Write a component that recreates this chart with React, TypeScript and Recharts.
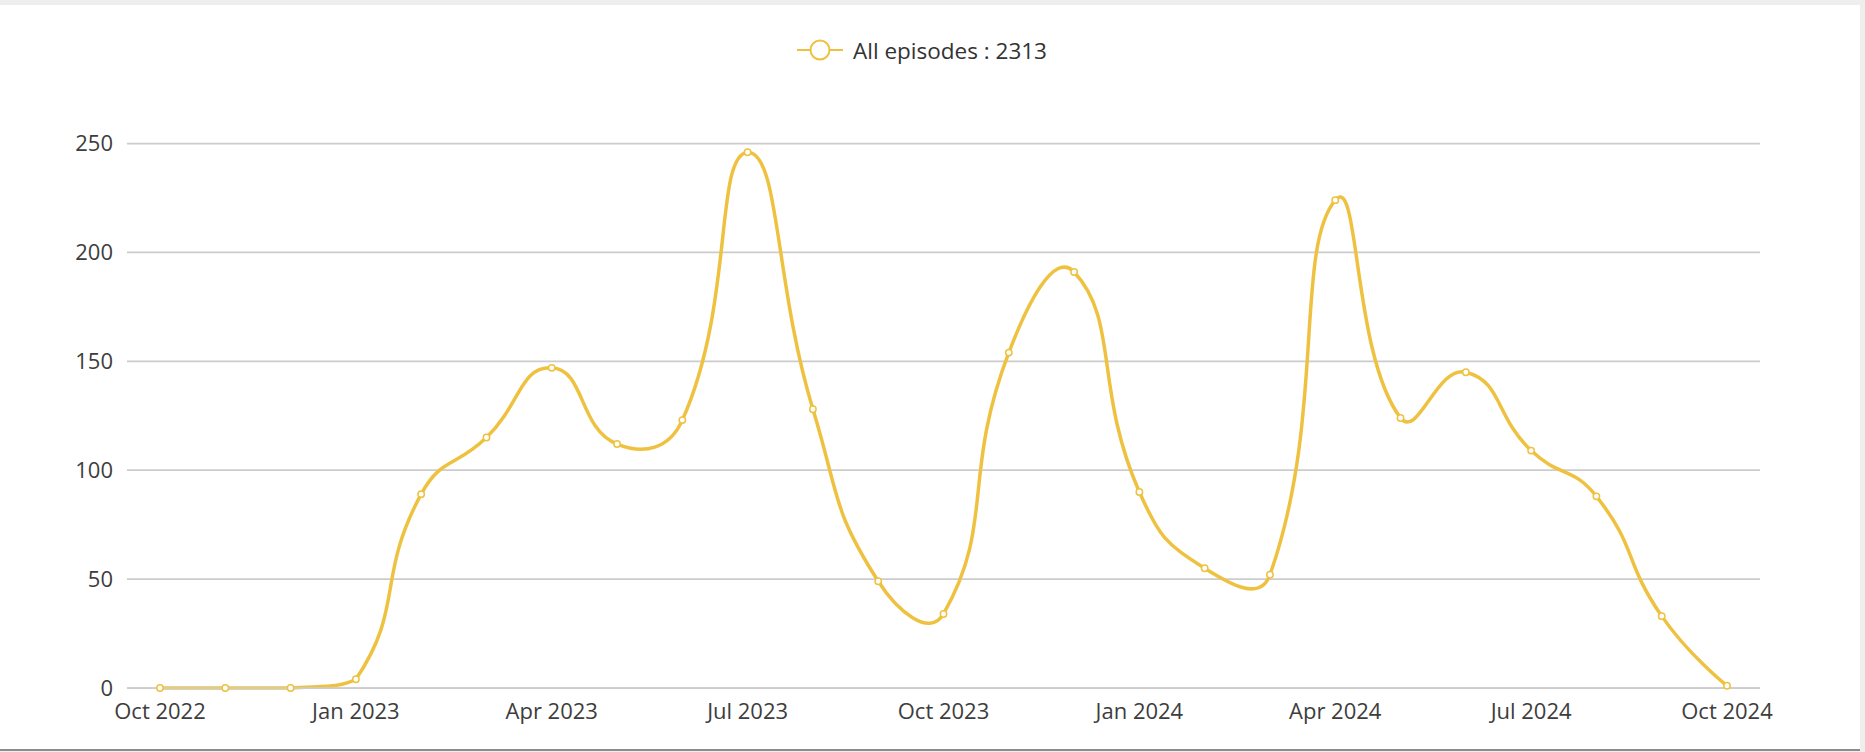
import React from "react";
import { LineChart, Line, XAxis, YAxis, CartesianGrid } from "recharts";

// monthly episode counts
const months = [
  "Oct 2022", "Nov 2022", "Dec 2022", "Jan 2023", "Feb 2023", "Mar 2023",
  "Apr 2023", "May 2023", "Jun 2023", "Jul 2023", "Aug 2023", "Sep 2023",
  "Oct 2023", "Nov 2023", "Dec 2023", "Jan 2024", "Feb 2024", "Mar 2024",
  "Apr 2024", "May 2024", "Jun 2024", "Jul 2024", "Aug 2024", "Sep 2024",
  "Oct 2024",
];
const episodes = [
  0, 0, 0, 4, 89, 115, 147, 112, 123, 246, 128, 49, 34, 154, 191, 90, 55, 52,
  224, 124, 145, 109, 88, 33, 1,
];
const yTicks = [0, 50, 100, 150, 200, 250];
const seriesName = "All episodes";

const data = months.map((month, i) => ({ month, episodes: episodes[i] }));
const total = episodes.reduce((a, b) => a + b, 0);

const COLOR = "#eec240";
const FONT = "'Open Sans', sans-serif";

// smoothing like the echarts line (smooth 0.5, clamped to the points' box)
const smoothCurve = (context: any) => {
  let pts: number[][] = [];
  return {
    areaStart() {},
    areaEnd() {},
    lineStart() {
      pts = [];
    },
    point(x: number, y: number) {
      pts.push([+x, +y]);
    },
    lineEnd() {
      if (!pts.length) return;
      const smooth = 0.5;
      const min = [Math.min(...pts.map((p) => p[0])), Math.min(...pts.map((p) => p[1]))];
      const max = [Math.max(...pts.map((p) => p[0])), Math.max(...pts.map((p) => p[1]))];
      const clamp = (c: number[]) => [
        Math.max(min[0], Math.min(max[0], c[0])),
        Math.max(min[1], Math.min(max[1], c[1])),
      ];
      context.moveTo(pts[0][0], pts[0][1]);
      let cp0 = [pts[0][0], pts[0][1]];
      let v = [0, 0];
      let ratio = 0.5;
      for (let i = 1; i < pts.length; i++) {
        const p = pts[i];
        const prev = pts[i - 1];
        const next = pts[i + 1];
        let cp1: number[];
        if (!next) {
          cp1 = [p[0], p[1]];
        } else {
          v = [next[0] - prev[0], next[1] - prev[1]];
          const d0 = Math.hypot(p[0] - prev[0], p[1] - prev[1]);
          const d1 = Math.hypot(next[0] - p[0], next[1] - p[1]);
          ratio = d0 + d1 === 0 ? 0.5 : d1 / (d0 + d1);
          cp1 = [p[0] - v[0] * smooth * (1 - ratio), p[1] - v[1] * smooth * (1 - ratio)];
        }
        const a = clamp(cp0);
        const b = clamp(cp1);
        context.bezierCurveTo(a[0], a[1], b[0], b[1], p[0], p[1]);
        cp0 = [p[0] + v[0] * smooth * ratio, p[1] + v[1] * smooth * ratio];
      }
    },
  };
};

export default function App() {
  return (
    <div
      style={{
        position: "absolute",
        left: 0,
        top: 0,
        width: 1865,
        height: 752,
        background: "#eeeeee",
        overflow: "hidden",
      }}
    >
      <div
        style={{
          position: "absolute",
          left: 0,
          top: 5,
          width: 1860,
          height: 744,
          background: "#fff",
          borderBottom: "2px solid #8c8c8c",
        }}
      />
      <div
        style={{
          position: "absolute",
          left: 797,
          top: 34,
          height: 32,
          display: "flex",
          alignItems: "center",
          fontFamily: FONT,
          fontSize: 22.5,
          color: "#333",
          whiteSpace: "nowrap",
        }}
      >
        <svg width={46} height={24} style={{ marginRight: 10 }}>
          <line x1={0} y1={12} x2={46} y2={12} stroke={COLOR} strokeWidth={2} />
          <circle cx={23} cy={12} r={9.5} fill="#fff" stroke={COLOR} strokeWidth={2} />
        </svg>
        <span>
          {seriesName} : {total}
        </span>
      </div>
      <div style={{ position: "absolute", left: 0, top: 0 }}>
        <LineChart
          width={1865}
          height={752}
          data={data}
          margin={{ top: 143.5, right: 105, bottom: 24, left: 67 }}
        >
          <CartesianGrid vertical={false} stroke="#cccccc" strokeWidth={1.75} />
          <XAxis
            dataKey="month"
            interval={2}
            height={40}
            padding={{ left: 33, right: 33 }}
            tickLine={false}
            axisLine={{ stroke: "#cccccc", strokeWidth: 1.75 }}
            tickMargin={9}
            tick={{ fill: "#3d3d3d", fontSize: 22, fontFamily: FONT }}
          />
          <YAxis
            domain={[0, 250]}
            ticks={yTicks}
            width={60}
            axisLine={false}
            tickLine={false}
            tickMargin={8}
            tick={{ fill: "#3d3d3d", fontSize: 22, fontFamily: FONT }}
          />
          <Line
            dataKey="episodes"
            name={seriesName}
            type={smoothCurve as any}
            stroke={COLOR}
            strokeWidth={3.5}
            dot={{ r: 3.2, fill: "#fff", stroke: COLOR, strokeWidth: 1.5 }}
            activeDot={false}
            isAnimationActive={false}
          />
        </LineChart>
      </div>
    </div>
  );
}
